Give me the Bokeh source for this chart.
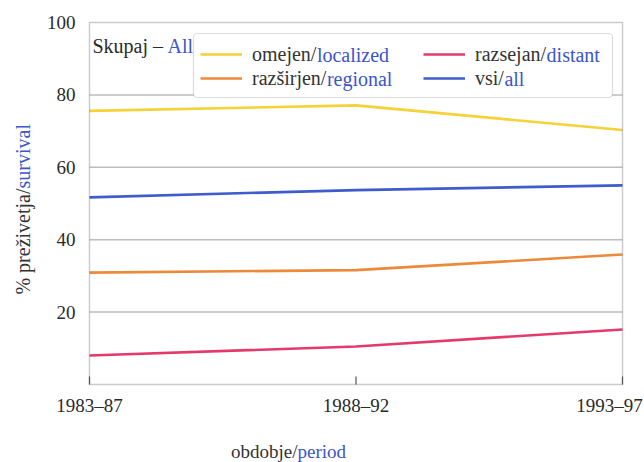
import math
from bokeh.plotting import figure
from bokeh.models import (Range1d, Legend, LegendItem, Label, LabelSet,
                          BoxAnnotation, ColumnDataSource)
from bokeh.embed import file_html
from bokeh.resources import INLINE

# ---- data ----
periods = ["1983–87", "1988–92", "1993–97"]
localized = [75.6, 77.1, 70.3]
regional = [30.9, 31.6, 35.9]
distant = [8.0, 10.5, 15.2]
all_stages = [51.7, 53.7, 55.0]
y_ticks = [20, 40, 60, 80, 100]

series = [
    ("omejen/", "localized", localized, "#f5d236"),
    ("razširjen/", "regional", regional, "#ec8a3a"),
    ("razsejan/", "distant", distant, "#e33a6b"),
    ("vsi/", "all", all_stages, "#3e5ccc"),
]

BLUE = "#3b55cc"
DARK = "#2a2a2a"
FONT = "Liberation Serif"

n = len(periods)
xs = list(range(n))

# ---- layout geometry (canvas px) ----
CW, CH = 644, 462
FL, FR, FT, FB = 89, 622, 22, 384          # plot box
TICK = 8                                    # inner tick length, px
pxx = (FR - FL) / (n - 1)
pxy = (FB - FT) / 100.0

def dx(cx):
    return (cx - FL) / pxx

def dy(cy):
    return (FB - cy) / pxy

p = figure(width=CW, height=CH, output_backend="svg", toolbar_location=None,
           tools="", x_axis_location=None, y_axis_location=None,
           x_range=Range1d(dx(0), dx(CW)), y_range=Range1d(dy(CH), dy(0)),
           min_border=0, min_border_left=0, min_border_right=0,
           min_border_top=0, min_border_bottom=0)
p.background_fill_color = "white"
p.border_fill_color = "white"
p.outline_line_color = None
p.xgrid.visible = False
p.ygrid.visible = False

# horizontal grid lines at the y ticks (inside the box)
grid_vals = [t for t in y_ticks if t < 100]
p.segment(x0=[0] * len(grid_vals), x1=[n - 1] * len(grid_vals),
          y0=grid_vals, y1=grid_vals, line_color="#bdbdbd", line_width=1.5)

# x tick marks pointing inward (up from the box bottom)
p.segment(x0=xs, x1=xs, y0=[0] * n, y1=[TICK / pxy] * n,
          line_color="#555555", line_width=1.2)

renderers = []
for blk, blu, vals, col in series:
    r = p.line(xs, vals, line_color=col, line_width=2.6)
    renderers.append(r)

# plot box
p.add_layout(BoxAnnotation(left=0, right=n - 1, bottom=0, top=100,
                           fill_alpha=0.0, line_color="#555555", line_width=1.5))

# legend box
p.add_layout(BoxAnnotation(left=dx(193), right=dx(612), top=dy(33), bottom=dy(97),
                           fill_color="white", fill_alpha=1.0,
                           line_color="#8a8a8a", line_width=1.2, border_radius=4))

def make_legend(idx, left_px):
    items = [LegendItem(label=series[i][0], renderers=[renderers[i]]) for i in idx]
    lg = Legend(items=items, location=(left_px, CH - 90),
                orientation="vertical",
                padding=0, spacing=0, margin=0,
                glyph_width=42, glyph_height=24, label_height=24,
                label_standoff=10,
                label_text_font=FONT, label_text_font_size="20px",
                label_text_color="#333333",
                border_line_color=None, background_fill_alpha=0.0)
    p.add_layout(lg)

make_legend([0, 1], 200)
make_legend([2, 3], 423)

# blue parts of the legend labels
blue_pos = [(252 + 64.4, 54), (252 + 74.4, 78), (475 + 71.1, 54), (475 + 28.9, 78)]
for (blk, blu, vals, col), (bx, by) in zip(series, blue_pos):
    p.add_layout(Label(x=dx(bx), y=dy(by), text=blu, text_font=FONT,
                       text_font_size="20px", text_color=BLUE,
                       text_baseline="middle", text_align="left"))

# title inside the box
p.add_layout(Label(x=dx(92), y=dy(45), text="Skupaj –", text_font=FONT,
                   text_font_size="20px", text_color=DARK,
                   text_baseline="middle", text_align="left"))
p.add_layout(Label(x=dx(167), y=dy(45), text="All", text_font=FONT,
                   text_font_size="20px", text_color=BLUE,
                   text_baseline="middle", text_align="left"))

# y tick labels
ysrc = ColumnDataSource(dict(y=y_ticks, text=[str(t) for t in y_ticks]))
p.add_layout(LabelSet(x=0, y="y", text="text", source=ysrc, x_offset=-14,
                      text_font=FONT, text_font_size="19px", text_color=DARK,
                      text_baseline="middle", text_align="right"))

# x tick labels
xoff = [0] * (n - 1) + [-13]
xsrc = ColumnDataSource(dict(x=xs, text=periods, off=xoff))
p.add_layout(LabelSet(x="x", y=0, text="text", source=xsrc, x_offset="off",
                      y_offset=-21, text_font=FONT, text_font_size="19px",
                      text_color=DARK, text_baseline="middle", text_align="center"))

# x axis title (two colours)
p.add_layout(Label(x=dx(297), y=dy(451), text="obdobje/", text_font=FONT,
                   text_font_size="19px", text_color="#333333",
                   text_baseline="middle", text_align="right"))
p.add_layout(Label(x=dx(297), y=dy(451), text="period", text_font=FONT,
                   text_font_size="19px", text_color=BLUE,
                   text_baseline="middle", text_align="left"))

# y axis title (two colours, rotated)
p.add_layout(Label(x=dx(22), y=dy(188), text="% preživetja/", angle=math.pi / 2,
                   text_font=FONT, text_font_size="20px", text_color="#333333",
                   text_baseline="middle", text_align="right"))
p.add_layout(Label(x=dx(22), y=dy(188), text="survival", angle=math.pi / 2,
                   text_font=FONT, text_font_size="20px", text_color=BLUE,
                   text_baseline="middle", text_align="left"))

open("out.html", "w").write(file_html(p, INLINE))
